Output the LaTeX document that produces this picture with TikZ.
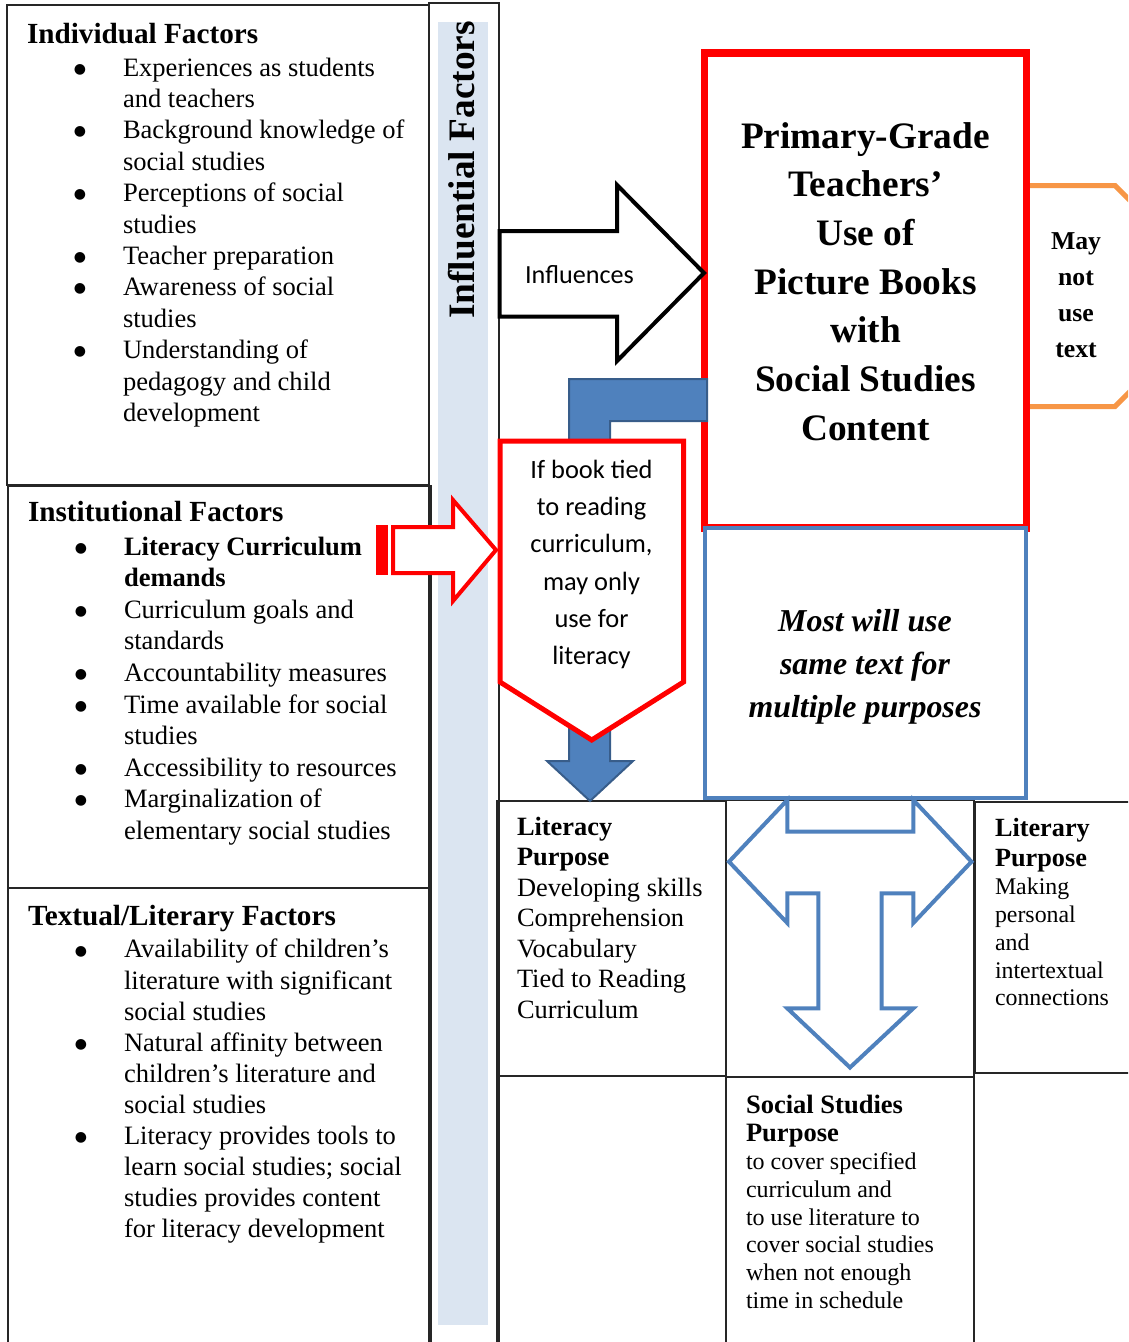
\documentclass[tikz,border=0pt]{standalone}
\usepackage{fontspec}
\setmainfont{Liberation Serif}
\newfontfamily\calibrifont{Carlito}
\newfontfamily\dejavufont{DejaVu Sans}
\newcommand\myfs[2]{\fontsize{#1pt}{#2pt}\selectfont}
\newcommand\bulmark{\makebox[0pt]{\raisebox{2.2pt}{\dejavufont\myfs{10.5}{11}\mdseries ●}}\hspace*{32.25pt}}
\newcommand\contind{\hspace*{32.25pt}}
\definecolor{bluec}{HTML}{4F81BD}
\definecolor{bluedark}{HTML}{385D8A}
\definecolor{orangec}{HTML}{F79646}
\definecolor{lightbar}{HTML}{DBE5F1}
\definecolor{pureRed}{RGB}{255,0,0}
\begin{document}
% Note: multi-line nodes are anchored at the baseline of their LAST line
\begin{tikzpicture}[x=0.75pt,y=-0.75pt,
  boxline/.style={draw=black!85,line width=1.4pt},
  lbl/.style={inner sep=0pt,outer sep=0pt,anchor=base west,align=left},
  clbl/.style={inner sep=0pt,outer sep=0pt,anchor=base,align=center},
  itm/.style={lbl,font=\myfs{19.9}{#1}},
  itm/.default=23.55,
  hdr/.style={lbl,font=\bfseries\myfs{21.9}{25}},
  shapeblue/.style={draw=bluec,line width=3pt,fill=white,line join=miter},
]
\useasboundingbox (0,0) rectangle (1128,1342);
\begin{scope}
\clip (0,0) rectangle (1128,1342);

% Influential factors column
\draw[boxline] (429,3) rectangle (499,1360);
\fill[lightbar] (438,22) rectangle (488,1325);
\node[rotate=90,anchor=base,inner sep=0pt,font=\bfseries\myfs{28}{30}] (inf) at (474,170) {Influential Factors};

% Left boxes
\draw[boxline] (7,5) rectangle (429,485);
\draw[boxline] (8,486) rectangle (431,888);
\draw[boxline] (8,888) rectangle (431,1360);

% Individual factors
\node[hdr] (h1) at (27,43) {Individual Factors};
\node[itm] (t11) at (80,107.4) {\bulmark Experiences as students\\\contind and teachers};
\node[itm] (t12) at (80,170.2) {\bulmark Background knowledge of\\\contind social studies};
\node[itm] (t13) at (80,233) {\bulmark Perceptions of social\\\contind studies};
\node[itm] (t14) at (80,264.4) {\bulmark Teacher preparation};
\node[itm] (t15) at (80,327.2) {\bulmark Awareness of social\\\contind studies};
\node[itm] (t16) at (80,421.4) {\bulmark Understanding of\\\contind pedagogy and child\\\contind development};

% Institutional factors
\node[hdr] (h2) at (28,521.7) {Institutional Factors};
\node[itm=23.7,font=\bfseries\myfs{19.9}{23.7}] (t21) at (81,586.6) {\bulmark Literacy Curriculum\\\contind demands};
\node[itm=23.7] (t22) at (81,649.8) {\bulmark Curriculum goals and\\\contind standards};
\node[itm=23.7] (t23) at (81,681.4) {\bulmark Accountability measures};
\node[itm=23.7] (t24) at (81,744.6) {\bulmark Time available for social\\\contind studies};
\node[itm=23.7] (t25) at (81,776.2) {\bulmark Accessibility to resources};
\node[itm=23.7] (t26) at (81,839.4) {\bulmark Marginalization of\\\contind elementary social studies};

% Textual / literary factors
\node[hdr] (h3) at (28,925) {Textual/Literary Factors};
\node[itm=23.3] (t31) at (81,1020.1) {\bulmark Availability of children’s\\\contind literature with significant\\\contind social studies};
\node[itm=23.3] (t32) at (81,1113.4) {\bulmark Natural affinity between\\\contind children’s literature and\\\contind social studies};
\node[itm=23.3] (t33) at (81,1237.8) {\bulmark Literacy provides tools to\\\contind learn social studies; social\\\contind studies provides content\\\contind for literacy development};

% Bottom boxes
\draw[boxline] (497,801) rectangle (726,1076);
\draw[boxline] (497,1076) rectangle (726,1360);
\draw[boxline] (726,800) rectangle (974,1077);
\draw[boxline] (726,1077) rectangle (974,1360);
\draw[boxline] (975,802) rectangle (1140,1073);

\node[lbl,font=\myfs{19.8}{22.9}] (litp) at (517,1018.2) {\textbf{Literacy}\\\textbf{Purpose}\\Developing skills\\Comprehension\\Vocabulary\\Tied to Reading\\Curriculum};
\node[lbl,font=\bfseries\myfs{19.7}{22.5}] (lyh) at (995,866) {Literary\\Purpose};
\node[lbl,font=\myfs{17.9}{20.8}] (lyt) at (995,1005.9) {Making\\personal\\and\\intertextual\\connections};
\node[lbl,font=\bfseries\myfs{19.9}{21.3}] (ssh) at (746,1141.7) {Social Studies\\Purpose};
\node[lbl,font=\myfs{18}{20.75}] (sst) at (746,1308.3) {to cover specified\\curriculum and\\to use literature to\\cover social studies\\when not enough\\time in schedule};

% Orange "May not use text" shape
\draw[draw=orangec,line width=3.75pt,fill=white,line join=miter] (1027,185.5) -- (1115,185.5) -- (1225.5,296) -- (1115,406.5) -- (1027,406.5) -- cycle;
\node[clbl,font=\bfseries\myfs{19.3}{27}] (may) at (1076,357) {May\\not\\use\\text};

% Main red box
\draw[draw=pureRed,line width=5.6pt,fill=white] (704.5,53) rectangle (1026.5,528);
\node[clbl,font=\bfseries\myfs{28}{36.5}] (title) at (865.5,440) {Primary-Grade\\Teachers’\\Use of\\Picture Books\\with\\Social Studies\\Content};

% Blue box
\draw[draw=bluec,line width=3pt,fill=white] (705,528) rectangle (1025.5,797.5);
\node[clbl,font=\bfseries\itshape\myfs{23.9}{31.9}] (most) at (865,717) {Most will use\\same text for\\multiple purposes};

% T-shaped three-way arrow
\draw[shapeblue] (787.3,800) -- (729,861.7) -- (787.3,923) -- (787.3,893.3) -- (818.3,893.3) -- (818.3,1008.3) -- (787.3,1008.3) -- (850,1067.5) -- (913.3,1008.3) -- (881.7,1008.3) -- (881.7,893.3) -- (913.3,893.3) -- (913.3,923) -- (971.5,861.7) -- (913.3,800) -- (913.3,831.7) -- (787.3,831.7) -- cycle;

% Blue bent arrow
\draw[fill=bluec,draw=bluedark,line width=1.5pt] (707,379) -- (569,379) -- (569,761) -- (547,761) -- (590,801) -- (633,761) -- (610,761) -- (610,421) -- (707,421) -- cycle;

% Red down pentagon
\draw[draw=pureRed,line width=3.75pt,fill=white,line join=miter] (500,441) -- (683.5,441) -- (683.5,682) -- (591.7,740) -- (500,682) -- cycle;
\node[clbl,font=\calibrifont\myfs{19.8}{28}] (iftied) at (591.5,664.7) {If book tied\\to reading\\curriculum,\\may only\\use for\\literacy};

% Red striped arrow
\fill[pureRed] (376,525) rectangle (388,575);
\fill[pureRed] (390.5,525) rectangle (395,575);
\draw[draw=pureRed,line width=3pt,fill=white,line join=miter] (393,527) -- (453,527) -- (453,500) -- (496,550) -- (453,601) -- (453,573) -- (393,573) -- cycle;

% Influences arrow
\draw[draw=black,line width=3pt,fill=white,line join=miter] (499.5,231) -- (617,231) -- (617,185) -- (704,273) -- (617,361) -- (617,316.5) -- (499.5,316.5) -- cycle;
\node[clbl,font=\calibrifont\myfs{19.6}{24}] (infl) at (579.5,283) {Influences};

\end{scope}
\end{tikzpicture}
\end{document}
